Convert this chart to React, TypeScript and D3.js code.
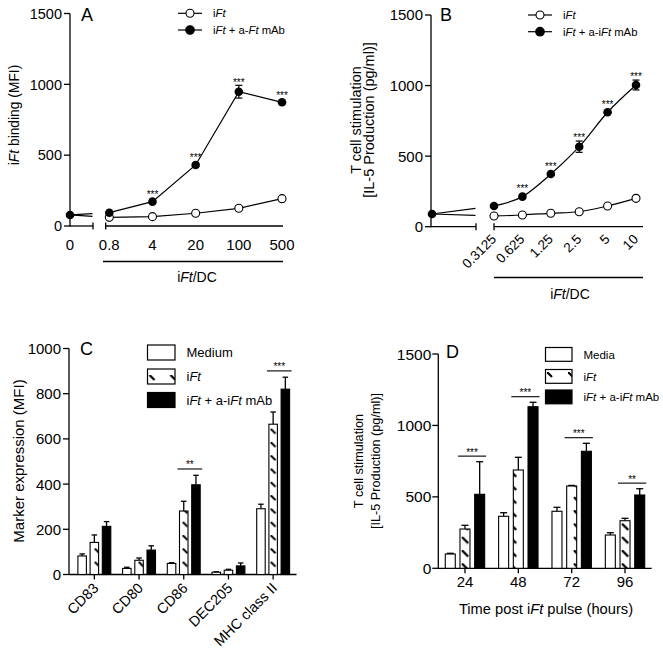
import React from "react";
import * as d3 from "d3";

const FONT = "'Liberation Sans', Arial, Helvetica, sans-serif";

// ---------- Panel A data ----------
const ratioA = [0.8, 4, 20, 100, 500];
const ratioALabels = ["0.8", "4", "20", "100", "500"];
const aZero = 78;
const aIft = [61, 66, 90, 125, 193];
const aMab = [94, 172, 431, 948, 873];
const aMabErr = [4, 8, 10, 45, 10];
const aSig = ["", "***", "***", "***", "***"];

// ---------- Panel B data ----------
const ratioB = [0.3125, 0.625, 1.25, 2.5, 5, 10];
const ratioBLabels = ["0.3125", "0.625", "1.25", "2.5", "5", "10"];
const bZero = 90;
const bIft = [76, 83, 95, 106, 147, 201];
const bMab = [147, 213, 373, 567, 811, 1004];
const bMabErr = [5, 8, 10, 40, 10, 35];
const bSig = ["", "***", "***", "***", "***", "***"];

const yTicks1500 = [0, 500, 1000, 1500];
const yTicks1000 = [0, 200, 400, 600, 800, 1000];

// ---------- Panel C data ----------
const markers = ["CD83", "CD80", "CD86", "DEC205", "MHC class II"];
const cMedium = [82, 27, 49, 10, 291];
const cMediumErr = [9, 5, 3, 2, 20];
const cIft = [142, 63, 281, 19, 665];
const cIftErr = [33, 10, 43, 4, 54];
const cMab = [213, 108, 397, 38, 820];
const cMabErr = [21, 19, 42, 13, 53];
const cSig = ["", "", "**", "", "***"];

// ---------- Panel D data ----------
const hours = ["24", "48", "72", "96"];
const dMedia = [100, 364, 399, 233];
const dMediaErr = [5, 25, 28, 16];
const dIft = [275, 688, 576, 333];
const dIftErr = [26, 89, 4, 17];
const dMab = [518, 1131, 819, 513];
const dMabErr = [228, 31, 56, 44];
const dSig = ["***", "***", "***", "**"];

const SW = 1.3;

type Part = string | [string];
const rich = (parts: Part[]) =>
  parts.map((p, i) =>
    typeof p === "string" ? (
      <tspan key={i}>{p}</tspan>
    ) : (
      <tspan key={i} fontStyle="italic">
        {p[0]}
      </tspan>
    )
  );

const Stars = ({ x, cy, s, size = 10 }: { x: number; cy: number; s: string; size?: number }) =>
  s ? (
    <text x={x} y={cy + size * 0.55} textAnchor="middle" fontSize={size} fill="#000">
      {s}
    </text>
  ) : null;

function YAxis({ x, scale, ticks, fontSize, labelGap = 8 }: any) {
  const [d0, d1] = scale.domain();
  return (
    <g>
      <line x1={x} x2={x} y1={scale(d1)} y2={scale(d0) + 0.6} stroke="#000" strokeWidth={SW} />
      {ticks.map((t: number) => (
        <g key={t}>
          <line x1={x - 6} x2={x} y1={scale(t)} y2={scale(t)} stroke="#000" strokeWidth={SW} />
          <text x={x - labelGap} y={scale(t)} dy="0.36em" textAnchor="end" fontSize={fontSize}>
            {t}
          </text>
        </g>
      ))}
    </g>
  );
}

function LineLegend({ x, y, filled, label }: { x: number; y: number; filled: boolean; label: React.ReactNode }) {
  return (
    <g>
      <line x1={x - 12} x2={x + 12} y1={y} y2={y} stroke="#000" strokeWidth={1.2} />
      <circle cx={x} cy={y} r={filled ? 4.3 : 4} fill={filled ? "#000" : "#fff"} stroke="#000" strokeWidth={1.1} />
      <text x={x + 23} y={y} dy="0.36em" fontSize={11.3}>
        {label}
      </text>
    </g>
  );
}

function PanelA() {
  const y = d3.scaleLinear().domain([0, 1500]).range([226, 13.5]);
  const x = d3.scaleLog().domain([0.8, 500]).range([109.3, 282]);
  const ax = 70;
  const base = y(0);
  const cut = 92.5;
  const pts = (vals: number[]) => vals.map((v, i) => [x(ratioA[i]), y(v)] as [number, number]);
  const line = d3.line<[number, number]>();
  const zeroSeg = (vals: number[]) => {
    const x1 = x(ratioA[0]);
    const y1 = y(vals[0]);
    const y0 = y(aZero);
    const t = (cut - ax) / (x1 - ax);
    return `M${ax},${y0}L${cut},${y0 + t * (y1 - y0)}`;
  };
  const openPts = pts(aIft);
  const fillPts = pts(aMab);
  return (
    <g>
      <YAxis x={ax} scale={y} ticks={yTicks1500} fontSize={14.5} />
      <line x1={ax} x2={93} y1={base} y2={base} stroke="#000" strokeWidth={SW} />
      <line x1={93} x2={93} y1={base - 3.5} y2={base + 3.5} stroke="#000" strokeWidth={SW} />
      <line x1={105.7} x2={283} y1={base} y2={base} stroke="#000" strokeWidth={SW} />
      <line x1={105.7} x2={105.7} y1={base - 3.5} y2={base + 3.5} stroke="#000" strokeWidth={SW} />
      <text x={ax} y={250} textAnchor="middle" fontSize={15}>0</text>
      {ratioA.map((r, i) => (
        <text key={r} x={x(r)} y={250} textAnchor="middle" fontSize={15}>
          {ratioALabels[i]}
        </text>
      ))}
      <line x1={103} x2={283} y1={261.5} y2={261.5} stroke="#000" strokeWidth={SW} />
      <text x={197} y={282} textAnchor="middle" fontSize={14}>
        {rich(["i", ["Ft"], "/DC"])}
      </text>
      <text transform={`translate(19,115) rotate(-90)`} textAnchor="middle" fontSize={13.8}>
        {rich(["i", ["Ft"], " binding (MFI)"])}
      </text>
      <text x={81} y={21} fontSize={18}>A</text>

      {/* lines */}
      <path d={zeroSeg(aIft)} stroke="#000" strokeWidth={1.2} fill="none" />
      <path d={zeroSeg(aMab)} stroke="#000" strokeWidth={1.2} fill="none" />
      <path d={line(openPts) || ""} stroke="#000" strokeWidth={1.2} fill="none" />
      <path d={line(fillPts) || ""} stroke="#000" strokeWidth={1.2} fill="none" />
      {fillPts.map(([px], i) => {
        const e = aMabErr[i];
        const y1 = y(aMab[i] + e);
        const y2 = y(aMab[i] - e);
        return (
          <g key={i}>
            <line x1={px} x2={px} y1={y1} y2={y2} stroke="#000" strokeWidth={1.2} />
            <line x1={px - 3.5} x2={px + 3.5} y1={y1} y2={y1} stroke="#000" strokeWidth={1.2} />
            <line x1={px - 3.5} x2={px + 3.5} y1={y2} y2={y2} stroke="#000" strokeWidth={1.2} />
          </g>
        );
      })}
      {openPts.map(([px, py], i) => (
        <circle key={i} cx={px} cy={py} r={4} fill="#fff" stroke="#000" strokeWidth={1.1} />
      ))}
      {fillPts.map(([px, py], i) => (
        <circle key={i} cx={px} cy={py} r={4.3} fill="#000" />
      ))}
      <circle cx={ax} cy={y(aZero)} r={4.3} fill="#000" />
      {fillPts.map(([px, py], i) => (
        <Stars key={i} x={px} cy={Math.min(py - 4.3, y(aMab[i] + aMabErr[i])) - 5} s={aSig[i]} />
      ))}

      <LineLegend x={190} y={13.3} filled={false} label={rich(["i", ["Ft"]])} />
      <LineLegend x={190} y={30} filled={true} label={rich(["i", ["Ft"], " + a-", ["Ft"], " mAb"])} />
    </g>
  );
}

function PanelB() {
  const y = d3.scaleLinear().domain([0, 1500]).range([226.7, 15]);
  const x = d3.scaleLog().domain([0.3125, 10]).range([494, 636]);
  const ax = 431;
  const zx = 432;
  const base = y(0);
  const cut = 475.5;
  const pts = (vals: number[]) => vals.map((v, i) => [x(ratioB[i]), y(v)] as [number, number]);
  const line = d3.line<[number, number]>().curve(d3.curveMonotoneX);
  const zeroSeg = (vals: number[]) => {
    const x1 = x(ratioB[0]);
    const y1 = y(vals[0]);
    const y0 = y(bZero);
    const t = (cut - zx) / (x1 - zx);
    return `M${zx},${y0}L${cut},${y0 + t * (y1 - y0)}`;
  };
  const openPts = pts(bIft);
  const fillPts = pts(bMab);
  return (
    <g>
      <YAxis x={ax} scale={y} ticks={yTicks1500} fontSize={15} />
      <line x1={ax} x2={476} y1={base} y2={base} stroke="#000" strokeWidth={SW} />
      <line x1={476} x2={476} y1={base - 3.5} y2={base + 3.5} stroke="#000" strokeWidth={SW} />
      <line x1={494} x2={643} y1={base} y2={base} stroke="#000" strokeWidth={SW} />
      <line x1={494} x2={494} y1={base - 3.5} y2={base + 3.5} stroke="#000" strokeWidth={SW} />
      {ratioB.map((r, i) => (
        <text
          key={r}
          transform={`translate(${x(r) + 3},240) rotate(-45)`}
          textAnchor="end"
          fontSize={13.5}
        >
          {ratioBLabels[i]}
        </text>
      ))}
      <line x1={494} x2={643} y1={277.5} y2={277.5} stroke="#000" strokeWidth={SW} />
      <text x={570} y={298.5} textAnchor="middle" fontSize={14}>
        {rich(["i", ["Ft"], "/DC"])}
      </text>
      <text transform={`translate(361,120) rotate(-90)`} textAnchor="middle" fontSize={14.5}>
        T cell stimulation
      </text>
      <text transform={`translate(374,120) rotate(-90)`} textAnchor="middle" fontSize={14.5}>
        [IL-5 Production (pg/ml)]
      </text>
      <text x={440} y={21} fontSize={18}>B</text>

      <path d={zeroSeg(bIft)} stroke="#000" strokeWidth={1.2} fill="none" />
      <path d={zeroSeg(bMab)} stroke="#000" strokeWidth={1.2} fill="none" />
      <path d={line(openPts) || ""} stroke="#000" strokeWidth={1.2} fill="none" />
      <path d={line(fillPts) || ""} stroke="#000" strokeWidth={1.2} fill="none" />
      {fillPts.map(([px], i) => {
        const e = bMabErr[i];
        const y1 = y(bMab[i] + e);
        const y2 = y(bMab[i] - e);
        return (
          <g key={i}>
            <line x1={px} x2={px} y1={y1} y2={y2} stroke="#000" strokeWidth={1.2} />
            <line x1={px - 3.5} x2={px + 3.5} y1={y1} y2={y1} stroke="#000" strokeWidth={1.2} />
            <line x1={px - 3.5} x2={px + 3.5} y1={y2} y2={y2} stroke="#000" strokeWidth={1.2} />
          </g>
        );
      })}
      {openPts.map(([px, py], i) => (
        <circle key={i} cx={px} cy={py} r={4} fill="#fff" stroke="#000" strokeWidth={1.1} />
      ))}
      {fillPts.map(([px, py], i) => (
        <circle key={i} cx={px} cy={py} r={4.3} fill="#000" />
      ))}
      <circle cx={zx} cy={y(bZero)} r={4.3} fill="#000" />
      {fillPts.map(([px, py], i) => (
        <Stars key={i} x={px} cy={Math.min(py - 4.3, y(bMab[i] + bMabErr[i])) - 5.5} s={bSig[i]} />
      ))}

      <LineLegend x={540} y={15} filled={false} label={rich(["i", ["Ft"]])} />
      <LineLegend x={540} y={31.7} filled={true} label={rich(["i", ["Ft"], " + a-i", ["Ft"], " mAb"])} />
    </g>
  );
}

function Bars({
  cx,
  y,
  vals,
  errs,
  fill,
  w,
  cap,
}: {
  cx: number[];
  y: any;
  vals: number[];
  errs: number[];
  fill: string;
  w: number;
  cap: number;
}) {
  return (
    <g>
      {vals.map((v, i) => {
        const top = y(v);
        const et = y(v + errs[i]);
        return (
          <g key={i}>
            <line x1={cx[i]} x2={cx[i]} y1={top} y2={et} stroke="#000" strokeWidth={1.3} />
            <line x1={cx[i] - cap / 2} x2={cx[i] + cap / 2} y1={et} y2={et} stroke="#000" strokeWidth={1.3} />
            <rect
              x={cx[i] - w / 2}
              y={top}
              width={w}
              height={y(0) - top}
              fill={fill}
              stroke="#000"
              strokeWidth={1.1}
            />
          </g>
        );
      })}
    </g>
  );
}

function PanelC() {
  const y = d3.scaleLinear().domain([0, 1000]).range([574.5, 348.5]);
  const xb = d3.scaleBand<string>().domain(markers).range([72, 295.5]).padding(0);
  const ax = 69;
  const base = y(0);
  const c = (m: string) => (xb(m) as number) + xb.bandwidth() / 2;
  const step = 12.2;
  const w = 8.5;
  const centers = markers.map(c);
  return (
    <g>
      <YAxis x={ax} scale={y} ticks={yTicks1000} fontSize={15} />
      <line x1={ax} x2={296.5} y1={base} y2={base} stroke="#000" strokeWidth={SW} />
      {centers.map((cx, i) => (
        <line key={i} x1={cx} x2={cx} y1={base} y2={base + 5} stroke="#000" strokeWidth={SW} />
      ))}
      <Bars cx={centers.map((v) => v - step)} y={y} vals={cMedium} errs={cMediumErr} fill="#fff" w={w} cap={5.5} />
      <Bars cx={centers} y={y} vals={cIft} errs={cIftErr} fill="url(#hatchC)" w={w} cap={5.5} />
      <Bars cx={centers.map((v) => v + step)} y={y} vals={cMab} errs={cMabErr} fill="#000" w={w} cap={5.5} />
      {markers.map((m, i) => {
        if (!cSig[i]) return null;
        const ly = y(cMab[i] + cMabErr[i]) - 6.3;
        const x1 = centers[i] - w / 2 - 2;
        const x2 = centers[i] + step + w / 2 + 2;
        return (
          <g key={m}>
            <line x1={x1} x2={x2} y1={ly} y2={ly} stroke="#000" strokeWidth={1.1} />
            <Stars x={(x1 + x2) / 2} cy={ly - 6} s={cSig[i]} />
          </g>
        );
      })}
      {markers.map((m, i) => (
        <text key={m} transform={`translate(${centers[i] + 5},589) rotate(-45)`} textAnchor="end" fontSize={14.5}>
          {m}
        </text>
      ))}
      <text transform={`translate(23.5,461) rotate(-90)`} textAnchor="middle" fontSize={15}>
        Marker expression (MFI)
      </text>
      <text x={80} y={355} fontSize={18}>C</text>

      {[
        { f: "#fff", l: rich(["Medium"]), y: 345 },
        { f: "url(#hatchLegC)", l: rich(["i", ["Ft"]]), y: 369 },
        { f: "#000", l: rich(["i", ["Ft"], " + a-i", ["Ft"], " mAb"]), y: 392.5 },
      ].map((d, i) => (
        <g key={i}>
          <rect x={147.5} y={d.y} width={27.5} height={15} fill={d.f} stroke="#000" strokeWidth={1.2} />
          <text x={186.5} y={d.y + 7.5} dy="0.36em" fontSize={13}>
            {d.l}
          </text>
        </g>
      ))}
    </g>
  );
}

function PanelD() {
  const y = d3.scaleLinear().domain([0, 1500]).range([568.3, 354]);
  const xb = d3.scaleBand<string>().domain(hours).range([438.3, 651.7]).padding(0);
  const ax = 438.3;
  const base = y(0);
  const centers = hours.map((h) => (xb(h) as number) + xb.bandwidth() / 2);
  const step = 14.7;
  const w = 10;
  return (
    <g>
      <YAxis x={ax} scale={y} ticks={yTicks1500} fontSize={15.5} labelGap={7} />
      <line x1={ax} x2={651.7} y1={base} y2={base} stroke="#000" strokeWidth={SW} />
      {centers.map((cx, i) => (
        <line key={i} x1={cx} x2={cx} y1={base} y2={base + 5} stroke="#000" strokeWidth={SW} />
      ))}
      <Bars cx={centers.map((v) => v - step)} y={y} vals={dMedia} errs={dMediaErr} fill="#fff" w={w} cap={7} />
      <Bars cx={centers} y={y} vals={dIft} errs={dIftErr} fill="url(#hatchD)" w={w} cap={7} />
      <Bars cx={centers.map((v) => v + step)} y={y} vals={dMab} errs={dMabErr} fill="#000" w={w} cap={7} />
      {hours.map((h, i) => {
        const ly = y(dMab[i] + dMabErr[i]) - 5.6;
        const x1 = centers[i] - w / 2 - 2;
        const x2 = centers[i] + step + w / 2 + 1.5;
        return (
          <g key={h}>
            <line x1={x1} x2={x2} y1={ly} y2={ly} stroke="#000" strokeWidth={1.1} />
            <Stars x={(x1 + x2) / 2} cy={ly - 6} s={dSig[i]} />
          </g>
        );
      })}
      {hours.map((h, i) => (
        <text key={h} x={centers[i]} y={587} textAnchor="middle" fontSize={15}>
          {h}
        </text>
      ))}
      <text x={546} y={614} textAnchor="middle" fontSize={14.7}>
        {rich(["Time post i", ["Ft"], " pulse (hours)"])}
      </text>
      <text transform={`translate(362.5,461) rotate(-90)`} textAnchor="middle" fontSize={12.7}>
        T cell stimulation
      </text>
      <text transform={`translate(380,461) rotate(-90)`} textAnchor="middle" fontSize={12.7}>
        [IL-5 Production (pg/ml)]
      </text>
      <text x={446} y={358} fontSize={18}>D</text>

      {[
        { f: "#fff", l: rich(["Media"]), y: 347.5 },
        { f: "url(#hatchLegD)", l: rich(["i", ["Ft"]]), y: 369.5 },
        { f: "#000", l: rich(["i", ["Ft"], " + a-i", ["Ft"], " mAb"]), y: 390 },
      ].map((d, i) => (
        <g key={i}>
          <rect x={545.5} y={d.y} width={26.5} height={13.8} fill={d.f} stroke="#000" strokeWidth={1.2} />
          <text x={583.5} y={d.y + 7} dy="0.36em" fontSize={11.5}>
            {d.l}
          </text>
        </g>
      ))}
    </g>
  );
}

export default function App() {
  return (
    <svg
      width={663}
      height={660}
      viewBox="0 0 663 660"
      style={{ position: "absolute", left: 0, top: 0, display: "block" }}
      fontFamily={FONT}
      fill="#000"
    >
      <defs>
        <pattern id="hatchD" patternUnits="userSpaceOnUse" x={13.7} y={4.7} width={16} height={13.3}>
          <rect width={16} height={13.3} fill="#fff" />
          <path d="M0,0L6.5,6.5" stroke="#000" strokeWidth={2.2} />
        </pattern>
        <pattern id="hatchC" patternUnits="userSpaceOnUse" x={6.5} y={3} width={11} height={13.3}>
          <rect width={11} height={13.3} fill="#fff" />
          <path d="M0,0L5,5" stroke="#000" strokeWidth={2} />
        </pattern>
        <pattern id="hatchLegC" patternUnits="userSpaceOnUse" x={148.5} y={375} width={21} height={20}>
          <rect width={21} height={20} fill="#fff" />
          <path d="M1,0L6,5" stroke="#000" strokeWidth={2.2} />
        </pattern>
        <pattern id="hatchLegD" patternUnits="userSpaceOnUse" x={547} y={372} width={21} height={20}>
          <rect width={21} height={20} fill="#fff" />
          <path d="M0,0L5,5" stroke="#000" strokeWidth={2.2} />
        </pattern>
      </defs>
      <rect width={663} height={660} fill="#fff" />
      <PanelA />
      <PanelB />
      <PanelC />
      <PanelD />
    </svg>
  );
}
